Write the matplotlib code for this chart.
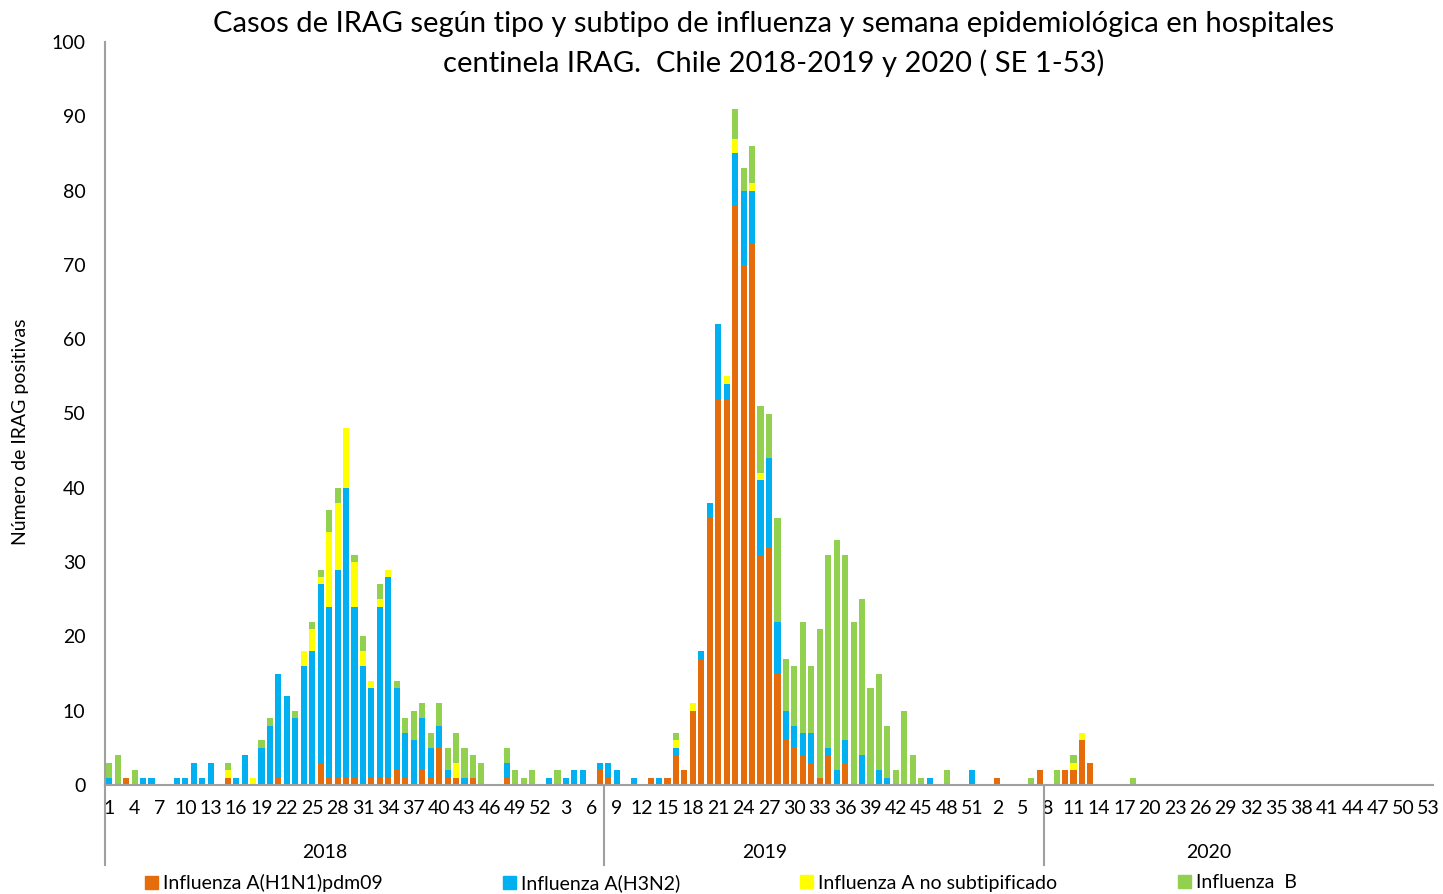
import matplotlib
matplotlib.use("Agg")
import matplotlib.pyplot as plt
from matplotlib.patches import Patch
import numpy as np

# ---- data (weekly positive SARI cases, Chile) ----
years = ["2018", "2019", "2020"]
weeks_per_year = [52, 52, 53]

h1n1_2018 = [0,0,1,0,0,0,0,0,0,0, 0,0,0,0,1,0,0,0,0,0, 1,0,0,0,0,3,1,1,1,1,
             0,1,1,1,2,1,0,2,1,5, 1,1,0,1,0,0,0,1,0,0, 0,0]
h1n1_2019 = [0,0,0,0,0,0,2,1,0,0, 0,0,1,0,1,4,2,10,17,36, 52,52,78,70,73,31,32,15,6,5,
             4,3,1,4,0,3,0,0,0,0, 0,0,0,0,0,0,0,0,0,0, 0,0]
h1n1_2020 = [0,1,0,0,0,0,2,0,0,2, 2,6,3,0,0,0,0,0,0,0, 0,0,0,0,0,0,0,0,0,0,
             0,0,0,0,0,0,0,0,0,0, 0,0,0,0,0,0,0,0,0,0, 0,0,0]

h3n2_2018 = [1,0,0,0,1,1,0,0,1,1, 3,1,3,0,0,1,4,0,5,8, 14,12,9,16,18,24,23,28,39,23,
             16,12,23,27,11,6,6,7,4,3, 1,0,1,0,0,0,0,2,0,0, 0,0]
h3n2_2019 = [1,0,1,2,2,0,1,2,2,0, 1,0,0,1,0,1,0,0,1,2, 10,2,7,10,7,10,12,7,4,3,
             3,4,0,1,2,3,0,4,0,2, 1,0,0,0,0,1,0,0,0,0, 2,0]
h3n2_2020 = [0,0,0,0,0,0,0,0,0,0, 0,0,0,0,0,0,0,0,0,0, 0,0,0,0,0,0,0,0,0,0,
             0,0,0,0,0,0,0,0,0,0, 0,0,0,0,0,0,0,0,0,0, 0,0,0]

ans_2018 = [0,0,0,0,0,0,0,0,0,0, 0,0,0,0,1,0,0,1,0,0, 0,0,0,2,3,1,10,9,8,6,
            2,1,1,1,0,0,0,0,0,0, 0,2,0,0,0,0,0,0,0,0, 0,0]
ans_2019 = [0,0,0,0,0,0,0,0,0,0, 0,0,0,0,0,1,0,1,0,0, 0,1,2,0,1,1,0,0,0,0,
            0,0,0,0,0,0,0,0,0,0, 0,0,0,0,0,0,0,0,0,0, 0,0]
ans_2020 = [0,0,0,0,0,0,0,0,0,0, 1,1,0,0,0,0,0,0,0,0, 0,0,0,0,0,0,0,0,0,0,
            0,0,0,0,0,0,0,0,0,0, 0,0,0,0,0,0,0,0,0,0, 0,0,0]

b_2018 = [2,4,0,2,0,0,0,0,0,0, 0,0,0,0,1,0,0,0,1,1, 0,0,1,0,1,1,3,2,0,1,
          2,0,2,0,1,2,4,2,2,3, 3,4,4,3,3,0,0,2,2,1, 2,0]
b_2019 = [0,2,0,0,0,0,0,0,0,0, 0,0,0,0,0,1,0,0,0,0, 0,0,4,3,5,9,6,14,7,8,
          15,9,20,26,31,25,22,21,13,13, 7,2,10,4,1,0,0,2,0,0, 0,0]
b_2020 = [0,0,0,0,0,1,0,0,2,0, 1,0,0,0,0,0,0,1,0,0, 0,0,0,0,0,0,0,0,0,0,
          0,0,0,0,0,0,0,0,0,0, 0,0,0,0,0,0,0,0,0,0, 0,0,0]

series_names = ["Influenza A(H1N1)pdm09", "Influenza A(H3N2)",
                "Influenza A no subtipificado", "Influenza  B"]
series_colors = ["#E46C0A", "#00B0F0", "#FFFF00", "#92D050"]

title_lines = ["Casos de IRAG según tipo y subtipo de influenza y semana epidemiológica en hospitales",
               "centinela IRAG.  Chile 2018-2019 y 2020 ( SE 1-53)"]
ylabel = "Número de IRAG positivas"
group_separators = [59, 111]   # category boundaries where the original draws group dividers

# ---- assemble ----
h1n1 = np.array(h1n1_2018 + h1n1_2019 + h1n1_2020)
h3n2 = np.array(h3n2_2018 + h3n2_2019 + h3n2_2020)
ans = np.array(ans_2018 + ans_2019 + ans_2020)
bb = np.array(b_2018 + b_2019 + b_2020)
week_labels = [str(w) for n in weeks_per_year for w in range(1, n + 1)]
n = len(week_labels)
x = np.arange(n)

FS = 14
plt.rcParams['font.family'] = ['Lato', 'DejaVu Sans']
fig = plt.figure(figsize=(14.43, 8.94), dpi=100)
W, H = 1443, 894
ax = fig.add_axes([105 / W, (H - 785) / H, 1328 / W, 743 / H])

bottom = np.zeros(n)
for vals, col in zip([h1n1, h3n2, ans, bb], series_colors):
    ax.bar(x, vals, bottom=bottom, width=0.72, color=col, edgecolor='none')
    bottom = bottom + vals

ax.set_xlim(-0.5, n - 0.5)
ax.set_ylim(0, 100)
ax.set_yticks(range(0, 101, 10))
ax.set_xticks(x[::3])
ax.set_xticklabels(week_labels[::3])
ax.tick_params(axis='y', length=0, pad=14, labelsize=FS, colors='#000000')
ax.tick_params(axis='x', length=0, pad=11, labelsize=FS)
for s in ['top', 'right']:
    ax.spines[s].set_visible(False)
for s in ['left', 'bottom']:
    ax.spines[s].set_color('#A0A0A0')
    ax.spines[s].set_linewidth(1.5)

# group dividers below axis
trans = ax.get_xaxis_transform()
depth = -80 / 743
for bnd in [0] + group_separators:
    ax.plot([bnd - 0.5, bnd - 0.5], [0, depth], transform=trans, color='#A0A0A0',
            lw=1.5, clip_on=False)

# year labels
start = 0
for yr, nw in zip(years, weeks_per_year):
    ax.text(start + (nw - 1) / 2, -68 / 743, yr, transform=trans, ha='center',
            va='center', fontsize=FS)
    start += nw

ax.set_ylabel(ylabel, fontsize=FS)
ax.yaxis.set_label_coords(-76 / 1328, 0.475)

fig.text(774 / W, 1 - 24 / H, title_lines[0], ha='center', va='center', fontsize=21)
fig.text(774 / W, 1 - 63 / H, title_lines[1], ha='center', va='center', fontsize=21)

# legend entries placed individually (uneven spacing as in original)
leg_x = [145, 503, 800, 1178]
for name, col, lx in zip(series_names, series_colors, leg_x):
    fig.legend(handles=[Patch(color=col)], labels=[name], loc='center left',
               bbox_to_anchor=(lx / W, 1 - 883 / H), frameon=False, fontsize=FS,
               handlelength=0.65, handleheight=0.65, handletextpad=0.3, borderpad=0,
               borderaxespad=0)

fig.savefig("out.png", dpi=100)
